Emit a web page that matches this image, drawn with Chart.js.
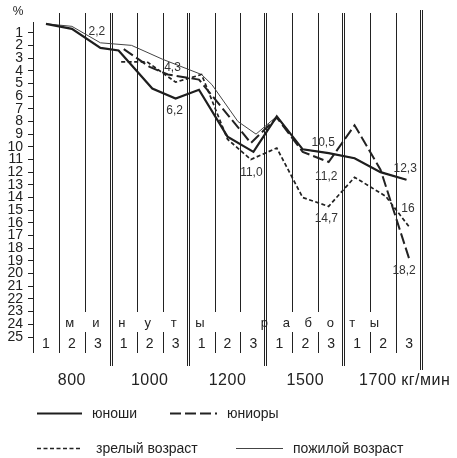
<!DOCTYPE html>
<html><head><meta charset="utf-8">
<script src="https://cdn.jsdelivr.net/npm/chart.js@4.4.1/dist/chart.umd.min.js"></script>
<style>html,body{margin:0;padding:0;background:#fff}#wrap{position:relative;width:457px;height:458px}</style>
</head><body><div id="wrap"><canvas id="c" width="457" height="458"></canvas></div>
<script>
// ---- data (x = position in minute-columns, y = %) ----
const yTicks = [1,2,3,4,5,6,7,8,9,10,11,12,13,14,15,16,17,18,19,20,21,22,23,24,25];
const minuteLabels = ['1','2','3'];
const loadLabels = ['800','1000','1200','1500','1700'];
const unitLabel = 'кг/мин';
const wordMinutes = ['м','и','н','у','т','ы'];
const wordWork = ['р','а','б','о','т','ы'];
const seriesNames = ['юноши','юниоры','зрелый возраст','пожилой возраст'];

const youthX = [0.5,1.5,2.6,3.3,4.6,5.5,6.4,7.5,8.5,9.4,10.4,11.4,12.4,13.4,14.4];
const youthY = [0.3,0.7,2.2,2.4,5.4,6.2,5.5,9.2,10.4,7.6,10.2,10.5,10.9,12.0,12.6];

const juniorX = [3.5,4.5,5.2,6.4,8.4,9.4,10.4,11.4,12.4,13.4,14.5];
const juniorY = [2.3,3.7,4.3,4.7,9.7,7.7,10.4,11.2,8.3,11.8,18.8];

const matureX = [3.4,4.4,5.5,6.5,7.5,8.4,9.4,10.4,11.4,12.4,13.6,14.5];
const matureY = [3.3,3.3,4.9,4.3,9.4,11.0,10.1,14.0,14.7,12.4,13.9,16.3];

const elderX = [0.5,1.5,2.6,3.8,5.0,6.5,6.9,7.9,8.6,9.4,10.4,11.4,12.4,13.4,14.4];
const elderY = [0.3,0.5,1.8,2.0,3.1,4.3,5.1,8.0,9.0,7.6,10.2,10.5,10.9,12.0,12.6];

const annoText = ['2,2','4,3','6,2','11,0','10,5','11,2','14,7','12,3','16','18,2'];
const annoX = [2.46,5.38,5.46,8.42,11.19,11.31,11.31,14.35,14.46,14.31];
const annoY = [0.87,3.70,7.09,11.97,9.61,12.28,15.59,11.65,14.80,19.69];

const pts = (xs, ys) => xs.map((x, i) => ({x, y: ys[i]}));
const INK = '#222';
const FONT = "'Liberation Sans', Arial, Helvetica, sans-serif";

const extras = {
  id: 'extras',
  beforeDatasetsDraw(chart) {
    const {ctx, scales: {x, y}} = chart;
    const px = v => Math.round(x.getPixelForValue(v)) + 0.5;
    const y0 = y.getPixelForValue(0), y25 = y.getPixelForValue(25);
    const top = y0 - 7, textTop = y25 - 25, rowTop = y25 - 5, rowBot = y25 + 16, dblBot = rowBot + 13;
    ctx.save();
    ctx.strokeStyle = INK; ctx.lineWidth = 1;
    const ln = (a, b, c, d) => { ctx.beginPath(); ctx.moveTo(a, b); ctx.lineTo(c, d); ctx.stroke(); };
    ln(px(0), y0 + 2, px(0), rowBot);
    for (let k = 1; k <= 15; k++) {
      const p = px(k);
      if (k % 3 === 0) {
        const t = k === 15 ? top - 3 : top, b = k === 15 ? dblBot + 4 : dblBot;
        const o = k === 3 ? 1 : 0;
        ln(p - 2 + o, t, p - 2 + o, b); ln(p + o, t, p + o, b);
      } else if (k === 1 || k === 14) {
        ln(p, top, p, rowBot);
      } else {
        ln(p, top, p, textTop); ln(p, rowTop, p, rowBot);
      }
    }
    ctx.restore();
  },
  afterDraw(chart) {
    const {ctx, scales: {x, y}} = chart;
    const y25 = y.getPixelForValue(25);
    ctx.save();
    ctx.fillStyle = INK;
    ctx.textAlign = 'center'; ctx.textBaseline = 'middle';
    ctx.font = '12px ' + FONT;
    ctx.fillText('%', x.left - 15, y.getPixelForValue(0) - 8);
    ctx.fillStyle = '#333';
    annoText.forEach((t, i) => ctx.fillText(t, x.getPixelForValue(annoX[i]), y.getPixelForValue(annoY[i]) + 1));
    ctx.fillStyle = INK;
    ctx.font = '13px ' + FONT;
    wordMinutes.forEach((ch, i) => ctx.fillText(ch, x.getPixelForValue(1.42) + i * 26, y25 - 14));
    wordWork.forEach((ch, i) => ctx.fillText(ch, x.getPixelForValue(8.92) + i * 22, y25 - 14));
    ctx.font = '14px ' + FONT;
    for (let k = 0; k < 15; k++) ctx.fillText(minuteLabels[k % 3], x.getPixelForValue(k + 0.5), y25 + 7);
    ctx.font = '16px ' + FONT;
    ctx.letterSpacing = '0.5px';
    loadLabels.forEach((t, i) => {
      const cx = i === 4 ? x.getPixelForValue(13.3) : x.getPixelForValue(i * 3 + 1.5);
      ctx.fillText(t, cx, y25 + 44);
    });
    ctx.textAlign = 'left';
    ctx.fillText(unitLabel, x.getPixelForValue(14.2), y25 + 44);
    ctx.letterSpacing = '0px';
    const ds = chart.data.datasets;
    const legendPos = [[37, 413], [170, 413], [37, 448], [236, 448]];
    const legendLen = [45, 47, 45, 47];
    ctx.font = '14px ' + FONT;
    ds.forEach((d, i) => {
      const [lx, ly] = legendPos[i];
      ctx.save();
      ctx.strokeStyle = d.borderColor; ctx.lineWidth = d.borderWidth;
      ctx.setLineDash(i === 1 ? [11, 4, 11, 4, 11, 4, 3, 0] : (d.borderDash || []));
      ctx.beginPath(); ctx.moveTo(lx, ly + 0.5); ctx.lineTo(lx + legendLen[i], ly + 0.5); ctx.stroke();
      ctx.restore();
      ctx.fillText(d.label, lx + legendLen[i] + (i === 2 ? 14 : 10), ly + 1);
    });
    ctx.restore();
  }
};

new Chart(document.getElementById('c'), {
  type: 'line',
  data: {
    datasets: [
      {label: seriesNames[0], data: pts(youthX, youthY), borderColor: '#1e1e1e', borderWidth: 2.2},
      {label: seriesNames[1], data: pts(juniorX, juniorY), borderColor: '#222', borderWidth: 2, borderDash: [11, 4]},
      {label: seriesNames[2], data: pts(matureX, matureY), borderColor: '#222', borderWidth: 1.7, borderDash: [4, 2.5]},
      {label: seriesNames[3], data: pts(elderX, elderY), borderColor: '#444', borderWidth: 1}
    ]
  },
  options: {
    responsive: false,
    animation: false,
    devicePixelRatio: 1,
    elements: {point: {radius: 0}, line: {tension: 0, fill: false}},
    layout: {padding: {left: 0, top: 20, right: 35, bottom: 121}},
    plugins: {legend: {display: false}, tooltip: {enabled: false}},
    scales: {
      x: {type: 'linear', min: 0, max: 15, display: false},
      y: {
        min: 0, max: 25, reverse: true,
        afterFit(s) { s.width = 33; },
        afterBuildTicks(s) { s.ticks = yTicks.map(v => ({value: v})); },
        ticks: {autoSkip: false, padding: 5, color: INK, font: {family: FONT, size: 14, lineHeight: 1}},
        grid: {drawOnChartArea: false, drawTicks: true, tickLength: 5, color: INK},
        border: {display: false}
      }
    }
  },
  plugins: [extras]
});
</script>
</body></html>
